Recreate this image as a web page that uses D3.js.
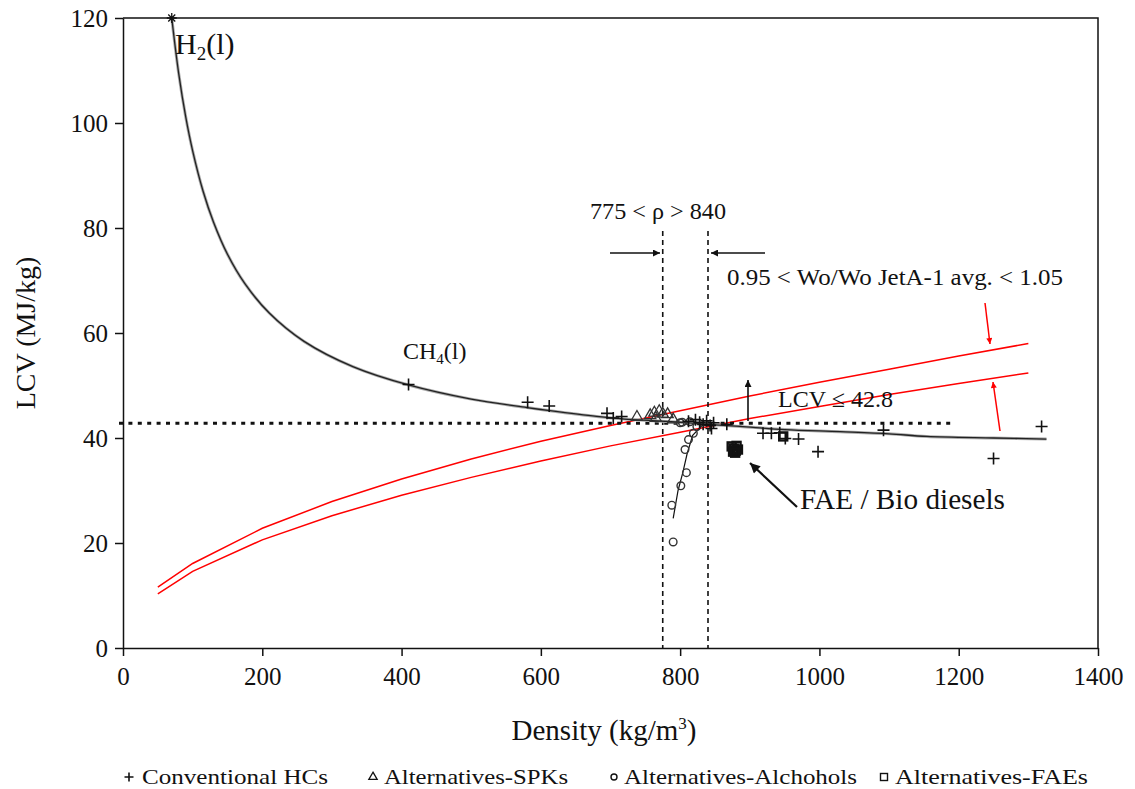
<!DOCTYPE html>
<html><head><meta charset="utf-8">
<script src="https://cdn.jsdelivr.net/npm/d3@7"></script>
<style>
body{margin:0;background:#fff;}
svg{display:block;font-family:'Liberation Serif','Times New Roman',serif;}
</style></head>
<body>
<svg id="chart" width="1135" height="789"></svg>
<script>
// ---- data ----
const xTicks = [0,200,400,600,800,1000,1200,1400];
const yTicks = [0,20,40,60,80,100,120];

// hydrocarbon trend curve (density, LCV)
const curveDensity = [70,80,90,100,115,130,150,175,210,260,330,410,500,580,613,680,720,760,800,840,886,950,1030,1100,1154,1250,1326];
const curveLCV     = [120,109.4,101.2,94.7,87.0,81.1,75.0,69.4,63.8,58.4,53.6,50.1,47.4,45.8,45.2,44.1,43.6,43.3,43.0,42.6,42.2,41.6,41.2,40.8,40.3,40.0,39.8];

// Wobbe index bounds (red)
const wobbeDensity = [50,100,200,300,400,500,600,700,800,900,1000,1100,1200,1300];
const wobbeUpper   = [11.6,16.1,22.8,27.9,32.2,36.0,39.4,42.4,45.2,48.0,50.6,53.1,55.6,58.0];
const wobbeLower   = [10.3,14.6,20.6,25.2,29.1,32.5,35.6,38.5,41.1,43.7,46.0,48.3,50.4,52.4];

// alcohols trend line
const alcLineDensity = [790,797,804,810,818,833];
const alcLineLCV     = [24.7,30.0,33.5,37.0,40.5,42.6];

// Conventional HCs
const hcDensity = [410,581,612,695,704,716,812,822,828,833,838,843,848,845,867,919,931,943,951,970,998,1092,1250,1319];
const hcLCV     = [50.2,46.8,46.1,44.7,43.8,44.1,43.2,43.5,43.0,42.6,43.3,42.4,42.9,41.8,42.6,40.9,40.9,41.0,39.9,39.8,37.4,41.5,36.1,42.2];

// Alternatives-SPKs
const spkDensity = [738,757,763,770,775,782,765,790];
const spkLCV     = [44.0,44.3,44.8,45.1,44.6,44.5,43.8,43.5];

// Alternatives-Alcohols
const alcDensity = [790,788,801,809,807,812,819,824,800,803,814];
const alcLCV     = [20.2,27.2,30.9,33.4,37.8,39.7,40.9,42.2,42.9,43.0,43.1];

// Alternatives-FAEs
const faeDensity = [874,877,880,883,876,881,879,948];
const faeLCV     = [38.4,38.0,37.6,37.8,37.4,38.5,37.2,40.3];

// H2(l) point
const h2Point = [70,120];

const legendLabels = ["Conventional HCs","Alternatives-SPKs","Alternatives-Alchohols","Alternatives-FAEs"];

// ---- drawing ----
const svg = d3.select("#chart");
const x = d3.scaleLinear().domain([0,1400]).range([123,1098]);
const y = d3.scaleLinear().domain([0,120]).range([648,18]);
const ink = "#111";
const serif = "'Liberation Serif','Times New Roman',serif";

svg.append("defs").html(`
<marker id="ahB" viewBox="0 0 10 10" refX="10" refY="5" markerWidth="9" markerHeight="7" orient="auto" markerUnits="userSpaceOnUse"><path d="M0,0 L10,5 L0,10 z" fill="#111"/></marker>
<marker id="ahR" viewBox="0 0 10 10" refX="10" refY="5" markerWidth="9" markerHeight="6" orient="auto" markerUnits="userSpaceOnUse"><path d="M0,0 L10,5 L0,10 z" fill="#f00"/></marker>
<marker id="ahBig" viewBox="0 0 10 10" refX="10" refY="5" markerWidth="14" markerHeight="10" orient="auto" markerUnits="userSpaceOnUse"><path d="M0,0 L10,5 L0,10 z" fill="#111"/></marker>
`);

// frame
svg.append("path").attr("d",`M123,18H1098V648`).attr("fill","none").attr("stroke",ink).attr("stroke-width",1.5);

// axes
const xAxis = svg.append("g").attr("transform","translate(0,648)")
  .call(d3.axisBottom(x).tickValues(xTicks).tickSize(8).tickPadding(11).tickSizeOuter(0).tickFormat(d3.format("d")));
const yAxis = svg.append("g").attr("transform","translate(123,0)")
  .call(d3.axisLeft(y).tickValues(yTicks).tickSize(8).tickPadding(7).tickSizeOuter(0));
[xAxis,yAxis].forEach(g=>{
  g.attr("font-family",serif);
  g.select(".domain").attr("stroke",ink).attr("stroke-width",1.5);
  g.selectAll(".tick line").attr("stroke",ink).attr("stroke-width",1.5);
  g.selectAll(".tick text").attr("fill",ink).attr("font-size",25).attr("font-family",serif);
});

// axis titles
const xt = svg.append("text").attr("x",604).attr("y",740).attr("text-anchor","middle").attr("font-size",29).attr("fill",ink);
xt.append("tspan").text("Density (kg/m");
xt.append("tspan").attr("font-size",17).attr("dy",-11).text("3");
xt.append("tspan").attr("dy",11).text(")");
svg.append("text").attr("transform","translate(35,333) rotate(-90)").attr("text-anchor","middle")
  .attr("font-size",28).attr("fill",ink).text("LCV (MJ/kg)");

// red Wobbe curves
const wLine = d3.line().x(d=>x(d[0])).y(d=>y(d[1]));
[wobbeUpper,wobbeLower].forEach(arr=>{
  svg.append("path").datum(wobbeDensity.map((d,i)=>[d,arr[i]]))
    .attr("d",wLine).attr("fill","none").attr("stroke","#f00").attr("stroke-width",1.5);
});

// dotted horizontal line LCV 42.8
svg.append("line").attr("x1",119).attr("x2",x(1195)).attr("y1",y(42.8)).attr("y2",y(42.8))
  .attr("stroke",ink).attr("stroke-width",3).attr("stroke-dasharray","4,5.4");

// vertical dashed lines at 775 and 840
[775,840].forEach(v=>{
  svg.append("line").attr("x1",x(v)).attr("x2",x(v)).attr("y1",231).attr("y2",648)
    .attr("stroke",ink).attr("stroke-width",1.6).attr("stroke-dasharray","5,4");
});

// HC trend curve
const cLine = d3.line().curve(d3.curveCatmullRom.alpha(0.5)).x(d=>x(d[0])).y(d=>y(d[1]));
const cData = curveDensity.map((d,i)=>[d,curveLCV[i]]);
svg.append("path").datum(cData).attr("d",cLine).attr("fill","none").attr("stroke","#aaa").attr("stroke-width",3);
svg.append("path").datum(cData).attr("d",cLine).attr("fill","none").attr("stroke","#222").attr("stroke-width",1.3);

// alcohol trend line
svg.append("path").datum(alcLineDensity.map((d,i)=>[d,alcLineLCV[i]]))
  .attr("d",d3.line().x(d=>x(d[0])).y(d=>y(d[1]))).attr("fill","none").attr("stroke",ink).attr("stroke-width",1.2);

// markers
function drawPlus(g,cx,cy,s){
  g.append("path").attr("d",`M${cx-s},${cy}H${cx+s}M${cx},${cy-s}V${cy+s}`).attr("stroke",ink).attr("stroke-width",1.6).attr("fill","none");
}
const gm = svg.append("g");
spkDensity.forEach((d,i)=>{
  gm.append("path").attr("transform",`translate(${x(d)},${y(spkLCV[i])})`)
    .attr("d",d3.symbol().type(d3.symbolTriangle).size(55)()).attr("fill","none").attr("stroke","#333").attr("stroke-width",1.3);
});
alcDensity.forEach((d,i)=>{
  gm.append("circle").attr("cx",x(d)).attr("cy",y(alcLCV[i])).attr("r",3.8)
    .attr("fill","none").attr("stroke","#333").attr("stroke-width",1.4);
});
faeDensity.forEach((d,i)=>{
  gm.append("rect").attr("x",x(d)-4).attr("y",y(faeLCV[i])-4).attr("width",8).attr("height",8)
    .attr("fill","none").attr("stroke",ink).attr("stroke-width",2.4);
});
hcDensity.forEach((d,i)=> drawPlus(gm,x(d),y(hcLCV[i]),6));

// H2 star
{
  const cx=x(h2Point[0]), cy=y(h2Point[1]);
  const s=5;
  gm.append("path").attr("d",`M${cx-s},${cy}H${cx+s}M${cx},${cy-s}V${cy+s}M${cx-s*0.7},${cy-s*0.7}L${cx+s*0.7},${cy+s*0.7}M${cx-s*0.7},${cy+s*0.7}L${cx+s*0.7},${cy-s*0.7}`)
    .attr("stroke",ink).attr("stroke-width",1.3);
}

// annotations
const h2 = svg.append("text").attr("x",175).attr("y",54).attr("font-size",30).attr("fill",ink);
h2.append("tspan").text("H");
h2.append("tspan").attr("font-size",19).attr("dy",6).text("2");
h2.append("tspan").attr("dy",-6).text("(l)");

const ch4 = svg.append("text").attr("x",403).attr("y",359).attr("font-size",24).attr("fill",ink);
ch4.append("tspan").text("CH");
ch4.append("tspan").attr("font-size",15).attr("dy",5).text("4");
ch4.append("tspan").attr("dy",-5).text("(l)");

svg.append("text").attr("x",590).attr("y",219).attr("font-size",24).attr("fill",ink)
  .attr("textLength",136).attr("lengthAdjust","spacingAndGlyphs").text("775 < ρ > 840");
svg.append("text").attr("x",727).attr("y",285).attr("font-size",24).attr("fill",ink)
  .attr("textLength",336).attr("lengthAdjust","spacingAndGlyphs").text("0.95 < Wo/Wo JetA-1 avg. < 1.05");
svg.append("text").attr("x",778).attr("y",407).attr("font-size",24).attr("fill",ink)
  .attr("textLength",115).attr("lengthAdjust","spacingAndGlyphs").text("LCV ≤ 42.8");
svg.append("text").attr("x",800).attr("y",509).attr("font-size",29).attr("fill",ink)
  .attr("textLength",205).attr("lengthAdjust","spacingAndGlyphs").text("FAE / Bio diesels");

// arrows
function arrow(x1,y1,x2,y2,m,w){
  svg.append("line").attr("x1",x1).attr("y1",y1).attr("x2",x2).attr("y2",y2)
    .attr("stroke",m==="ahR"?"#f00":ink).attr("stroke-width",w||1.5).attr("marker-end",`url(#${m})`);
}
arrow(610,253,660,253,"ahB",1.6);
arrow(765,253,711,253,"ahB",1.6);
arrow(748,421,748,380,"ahB",1.6);
arrow(797,507,750,463,"ahBig",2.2);
arrow(985,303,990,344,"ahR",1.5);
arrow(1000,431,993,382,"ahR",1.5);

// legend
const legY = 776;
const lg = svg.append("g");
drawPlus(lg,129,legY+1,4.5);
lg.append("path").attr("transform",`translate(373,${legY+1})`).attr("d",d3.symbol().type(d3.symbolTriangle).size(30)()).attr("fill","none").attr("stroke",ink).attr("stroke-width",1.3);
lg.append("circle").attr("cx",614).attr("cy",legY+1).attr("r",3).attr("fill","none").attr("stroke",ink).attr("stroke-width",1.4);
lg.append("rect").attr("x",880.5).attr("y",legY-2.5).attr("width",7).attr("height",7).attr("fill","none").attr("stroke",ink).attr("stroke-width",1.4);
const legX = [142,384,624,895];
const legW = [186,184,233,193];
legendLabels.forEach((t,i)=>{
  lg.append("text").attr("x",legX[i]).attr("y",legY+8).attr("font-size",22).attr("fill",ink)
    .attr("textLength",legW[i]).attr("lengthAdjust","spacingAndGlyphs").text(t);
});
</script>
</body></html>
